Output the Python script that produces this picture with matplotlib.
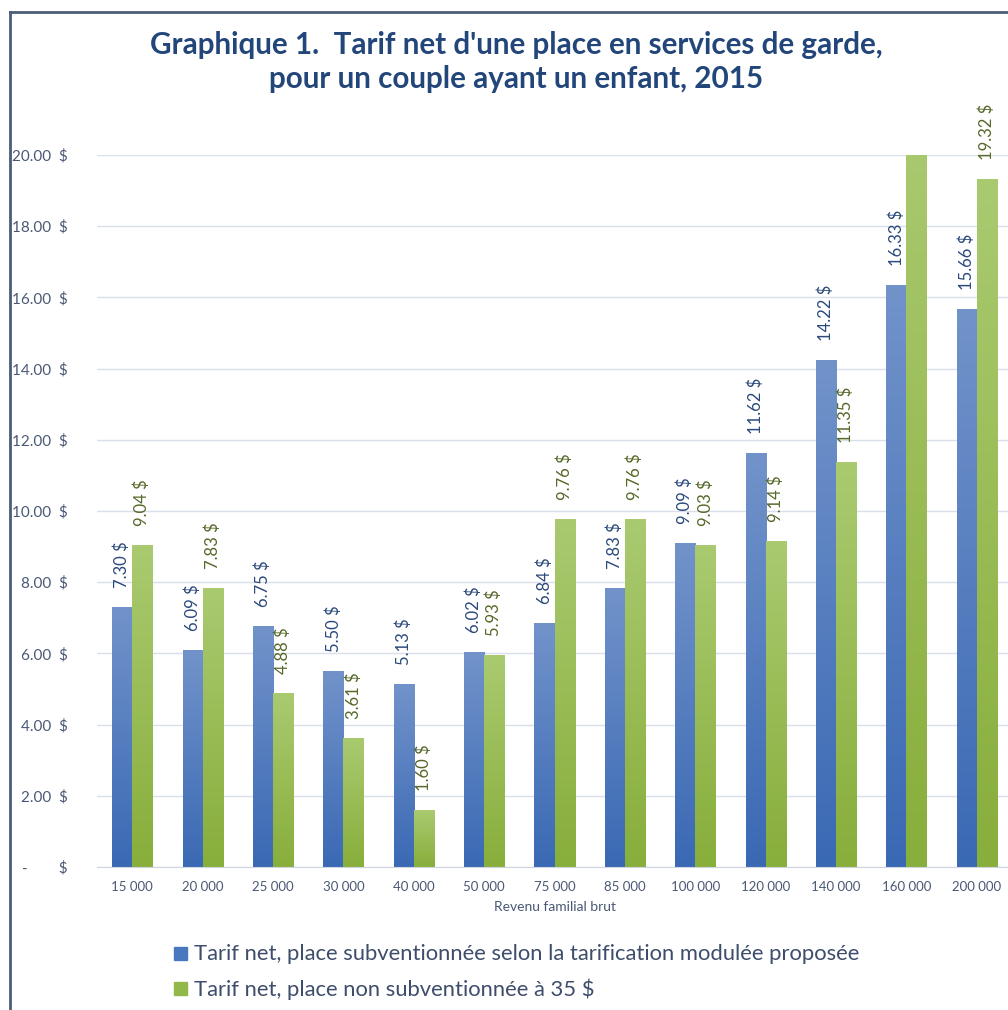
import numpy as np
import matplotlib
matplotlib.use("Agg")
import matplotlib.pyplot as plt
from matplotlib.colors import LinearSegmentedColormap
from matplotlib.lines import Line2D
from matplotlib.patches import Rectangle

plt.rcParams["font.family"] = ["Lato", "DejaVu Sans"]

# data
revenus = ["15 000", "20 000", "25 000", "30 000", "40 000", "50 000", "75 000",
           "85 000", "100 000", "120 000", "140 000", "160 000", "200 000"]
tarif_module = [7.30, 6.09, 6.75, 5.50, 5.13, 6.02, 6.84, 7.83, 9.09, 11.62, 14.22, 16.33, 15.66]
tarif_non_sub = [9.04, 7.83, 4.88, 3.61, 1.60, 5.93, 9.76, 9.76, 9.03, 9.14, 11.35, 21.00, 19.32]
yticks = [0, 2, 4, 6, 8, 10, 12, 14, 16, 18, 20]

legend_labels = ["Tarif net, place subventionnée selon la tarification modulée proposée",
                 "Tarif net, place non subventionnée à 35 $"]
title = "Graphique 1.  Tarif net d'une place en services de garde,\npour un couple ayant un enfant, 2015"

blue_cmap = LinearSegmentedColormap.from_list("b", ["#3A69B4", "#7293CA"])
green_cmap = LinearSegmentedColormap.from_list("g", ["#88AE3B", "#AACA70"])
blue_lbl = "#2B4A7C"
green_lbl = "#56692A"
txt_col = "#4A5875"

fig = plt.figure(figsize=(10.08, 10.10), dpi=100)
ax = fig.add_axes([97 / 1008, 143 / 1010, 915 / 1008, 712 / 1010])
ymax = yticks[-1]

x = np.arange(len(revenus))
w = 0.285
grad = np.linspace(0, 1, 256).reshape(-1, 1)

def gradient_bars(xpos, vals, cmap, lbl_col):
    bars = ax.bar(xpos, vals, width=w, color="none", edgecolor="none", zorder=3)
    for b, v in zip(bars, vals):
        x0 = b.get_x()
        top = min(v, ymax)
        im = ax.imshow(grad[: int(256 * top / v)], extent=[x0, x0 + w, 0, top], origin="lower",
                       aspect="auto", cmap=cmap, vmin=0, vmax=1, zorder=2.5,
                       interpolation="bilinear")
        ax.annotate(f"{v:.2f} $", (x0 + w / 2, v), xytext=(0, 14), textcoords="offset points",
                    rotation=90, ha="center", va="bottom", fontsize=12, color=lbl_col,
                    annotation_clip=True)

gradient_bars(x - w / 2, tarif_module, blue_cmap, blue_lbl)
gradient_bars(x + w / 2, tarif_non_sub, green_cmap, green_lbl)

ax.set_xlim(-0.5, len(revenus) - 0.5)
ax.set_ylim(0, ymax)
ax.set_yticks(yticks)
ax.set_yticklabels([f"{t:.2f}  $" if t else "-        $" for t in yticks],
                   fontsize=11, color=txt_col)
ax.set_xticks(x)
ax.set_xticklabels(revenus, fontsize=9.5, color=txt_col)
ax.tick_params(length=0)
ax.tick_params(axis="y", pad=21)
ax.tick_params(axis="x", pad=10)
ax.grid(axis="y", color="#D9E0EB", lw=1, zorder=0)
for s in ["top", "right", "left"]:
    ax.spines[s].set_visible(False)
ax.spines["bottom"].set_color("#D0D6E0")
ax.set_xlabel("Revenu familial brut", fontsize=10, color=txt_col, labelpad=6)

fig.text(516 / 1008, 1 - 62 / 1010, title, ha="center", va="center", fontsize=21.3,
         fontweight="bold", color="#22467A", linespacing=1.3)

# legend drawn as two rows
for i, (lab, c) in enumerate(zip(legend_labels, ["#4A78BE", "#93B84A"])):
    yy = 1 - (954 + 35 * i) / 1010
    fig.add_artist(Rectangle((174 / 1008, yy - 6 / 1010), 13 / 1008, 13 / 1010,
                             transform=fig.transFigure, color=c))
    fig.text(194 / 1008, yy, lab, ha="left", va="center", fontsize=15.8, color="#3E4D6B")

# frame
fig.add_artist(Line2D([10 / 1008, 10 / 1008], [0, 1 - 12 / 1010], transform=fig.transFigure,
                      color="#4C5D7A", lw=2))
fig.add_artist(Line2D([10 / 1008, 1], [1 - 12 / 1010, 1 - 12 / 1010], transform=fig.transFigure,
                      color="#4C5D7A", lw=2))

fig.savefig("out.png", dpi=100)
